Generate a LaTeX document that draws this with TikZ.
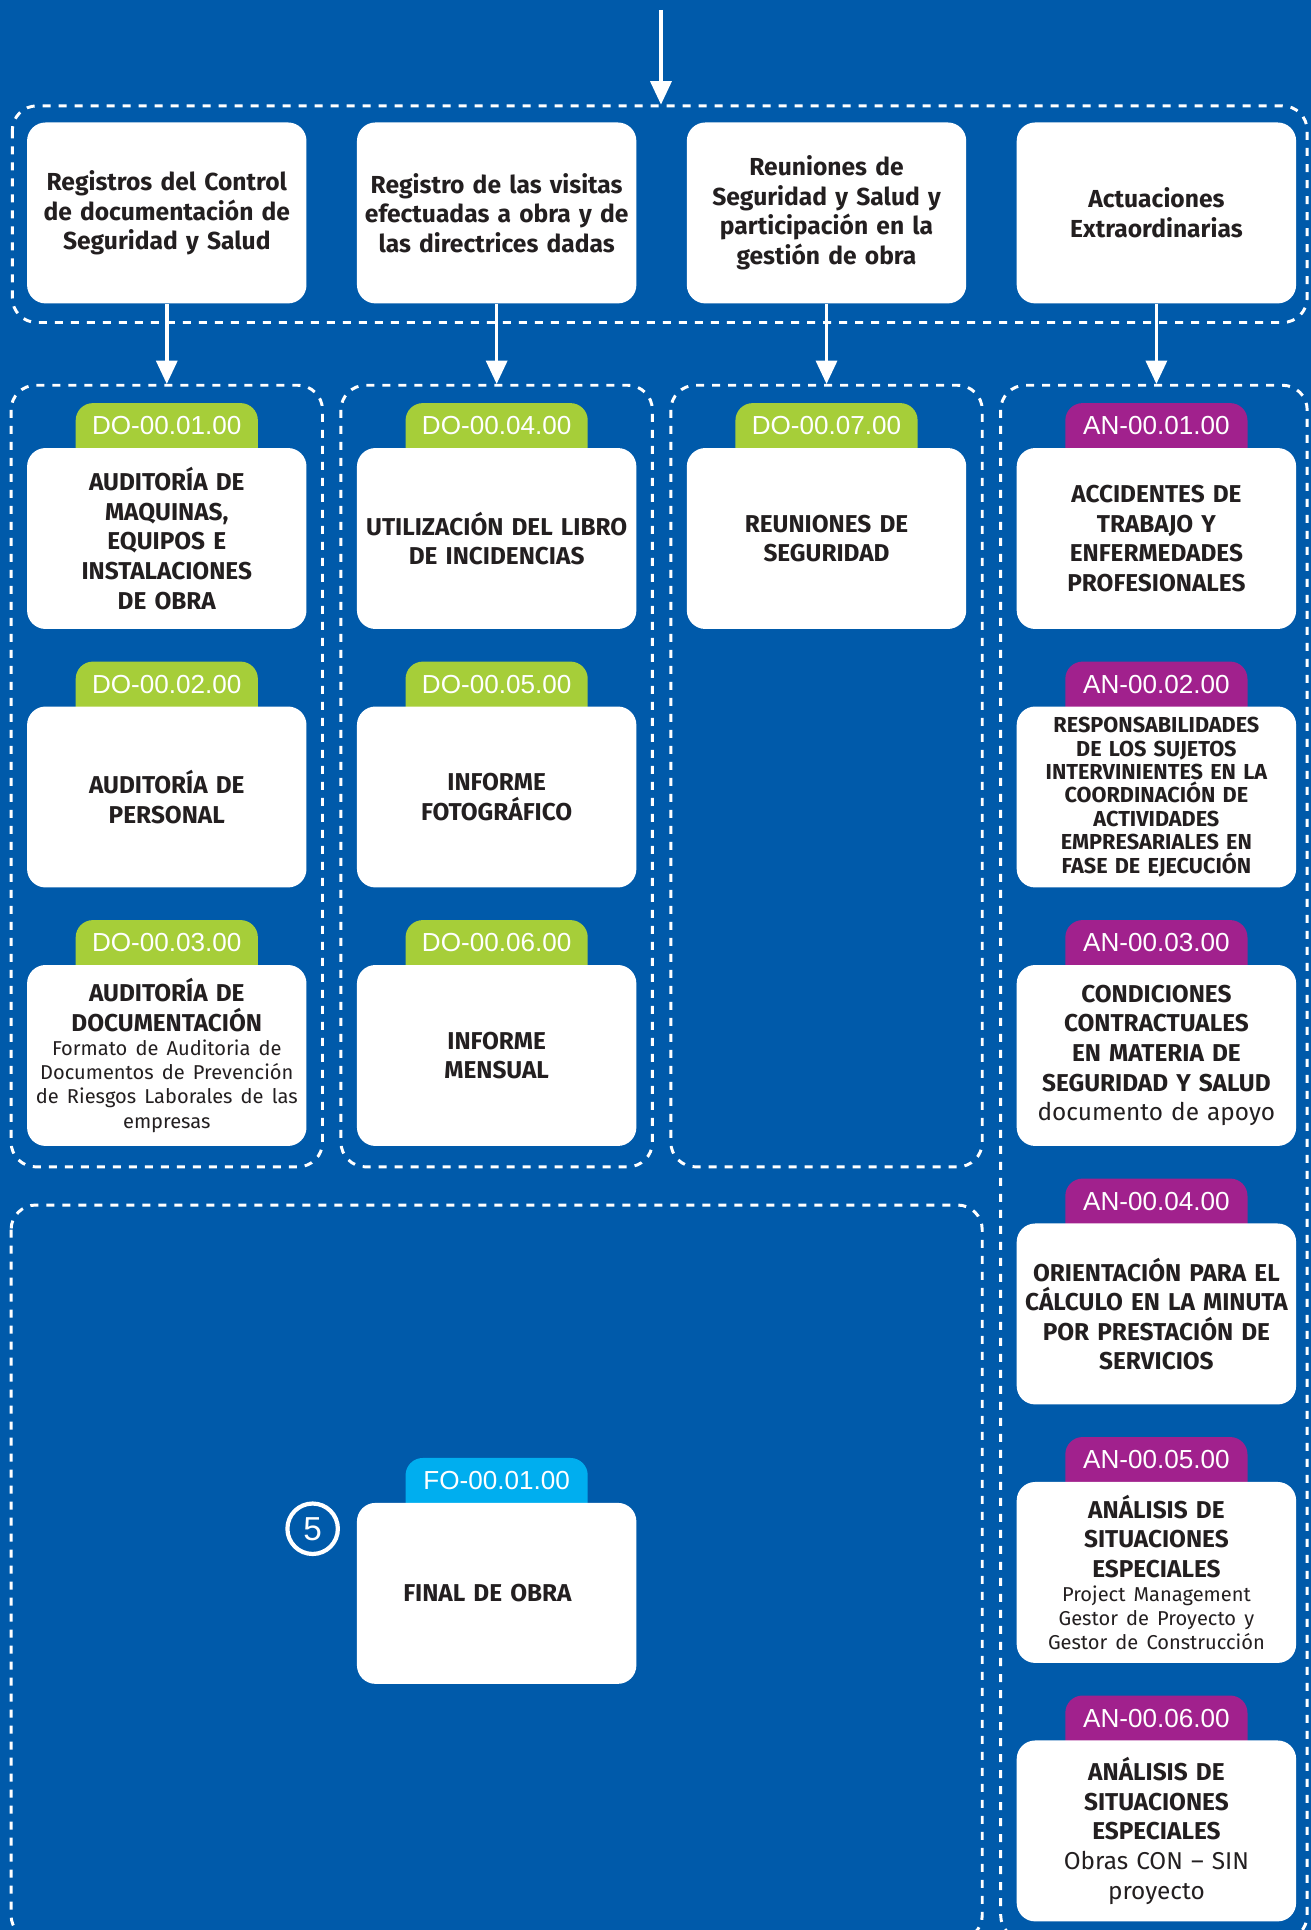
\documentclass[tikz,border=0pt]{standalone}
\usepackage{fontspec}
\setmainfont{Fira Sans}
\newfontfamily\codefont{Liberation Sans}
\usetikzlibrary{arrows.meta}
\definecolor{bgblue}{RGB}{0,90,170}
\definecolor{tabgreen}{RGB}{166,206,57}
\definecolor{tabpurple}{RGB}{161,33,141}
\definecolor{tabcyan}{RGB}{0,174,239}
\definecolor{ink}{RGB}{35,31,32}
\tikzset{
  card/.style={fill=white, rounded corners=15pt, minimum width=227pt, minimum height=147pt,
    text width=225pt, align=center, inner sep=0pt, text=ink,
    font=\bfseries\fontsize{19.8}{24}\selectfont},
  headbox/.style={card, font=\bfseries\fontsize{20}{24}\selectfont},
  smallcaps/.style={font=\bfseries\fontsize{17.6}{19}\selectfont},
  tabtext/.style={text=white, font=\codefont\fontsize{21.2}{22}\selectfont, inner sep=0pt},
  dashbox/.style={draw=white, line width=2.4pt, dash pattern=on 6.5pt off 6.5pt, rounded corners=20pt},
  arr/.style={draw=white, line width=2.8pt, -{Triangle[width=17pt,length=19pt]}},
  fivemark/.style={circle, draw=white, line width=3.4pt, minimum size=41pt, inner sep=0pt,
    text=white, font=\codefont\fontsize{27}{27}\selectfont},
}
\newcommand\smalltxt{\fontsize{16.3}{19.6}\mdseries\selectfont}
\newcommand\regtxt{\fontsize{19.8}{24}\mdseries\selectfont}
% #1 name, #2 x centre, #3 y top of card, #4 tab colour, #5 code, #6 extra style, #7 text
\newcommand\mkcard[7]{%
  \fill[#4] ({#2-74},{#3+1}) [rounded corners=14pt] -- ({#2-74},{#3-36.5}) -- ({#2+74},{#3-36.5}) [sharp corners] -- ({#2+74},{#3+1}) -- cycle;
  \node[tabtext] (#1t) at ({#2},{#3-18}) {#5};
  \node[card,#6] (#1) at ({#2},{#3+73.5}) {#7};
}
\begin{document}
\begin{tikzpicture}[x=1pt,y=-1pt]
\useasboundingbox (0,0) rectangle (1065,1568);
\clip (0,0) rectangle (1065,1568);
\fill[bgblue] (0,0) rectangle (1065,1568);

% dashed groups
\draw[dashbox] (10,86) rectangle (1062,262);
\draw[dashbox] (9,313) rectangle (262,948);
\draw[dashbox] (277,313) rectangle (530,948);
\draw[dashbox] (545,313) rectangle (798,948);
\draw[dashbox] (813,313) rectangle (1062,1576);
\draw[dashbox] (9,979) rectangle (798,1576);

% header boxes
\node[headbox] (h1) at (135.5,173) {Registros del Control\\de documentación de\\Seguridad y Salud};
\node[headbox] (h2) at (403.5,173) {Registro de las visitas\\efectuadas a obra y de\\las directrices dadas};
\node[headbox] (h3) at (671.5,173) {Reuniones de\\Seguridad y Salud y\\participación en la\\gestión de obra};
\node[headbox] (h4) at (939.5,173) {Actuaciones\\Extraordinarias};

% arrows
\coordinate (a0) at (537,8);
\coordinate (a0e) at (537,85);
\draw[arr] (a0) -- (a0e);
\coordinate (d1) at (135.5,312);
\coordinate (d2) at (403.5,312);
\coordinate (d3) at (671.5,312);
\coordinate (d4) at (939.5,312);
\draw[arr] (h1) -- (d1);
\draw[arr] (h2) -- (d2);
\draw[arr] (h3) -- (d3);
\draw[arr] (h4) -- (d4);

% column 1
\mkcard{c1}{135.5}{364}{tabgreen}{DO-00.01.00}{}{AUDITORÍA DE\\MAQUINAS,\\EQUIPOS E\\INSTALACIONES\\DE OBRA}
\mkcard{c2}{135.5}{574}{tabgreen}{DO-00.02.00}{}{AUDITORÍA DE\\PERSONAL}
\mkcard{c3}{135.5}{784}{tabgreen}{DO-00.03.00}{}{AUDITORÍA DE\\DOCUMENTACIÓN\par{\smalltxt Formato de Auditoria de\\Documentos de Prevención\\de Riesgos Laborales de las\\empresas\par}}
% column 2
\mkcard{c4}{403.5}{364}{tabgreen}{DO-00.04.00}{}{UTILIZACIÓN DEL LIBRO\\DE INCIDENCIAS}
\mkcard{c5}{403.5}{574}{tabgreen}{DO-00.05.00}{}{INFORME\\FOTOGRÁFICO}
\mkcard{c6}{403.5}{784}{tabgreen}{DO-00.06.00}{}{INFORME\\MENSUAL}
% column 3
\mkcard{c7}{671.5}{364}{tabgreen}{DO-00.07.00}{}{REUNIONES DE\\SEGURIDAD}
% column 4
\mkcard{n1}{939.5}{364}{tabpurple}{AN-00.01.00}{}{ACCIDENTES DE\\TRABAJO Y\\ENFERMEDADES\\PROFESIONALES}
\mkcard{n2}{939.5}{574}{tabpurple}{AN-00.02.00}{smallcaps}{RESPONSABILIDADES\\DE LOS SUJETOS\\INTERVINIENTES EN LA\\COORDINACIÓN DE\\ACTIVIDADES\\EMPRESARIALES EN\\FASE DE EJECUCIÓN}
\mkcard{n3}{939.5}{784}{tabpurple}{AN-00.03.00}{}{CONDICIONES\\CONTRACTUALES\\EN MATERIA DE\\SEGURIDAD Y SALUD\\{\regtxt documento de apoyo}}
\mkcard{n4}{939.5}{994}{tabpurple}{AN-00.04.00}{}{ORIENTACIÓN PARA EL\\CÁLCULO EN LA MINUTA\\POR PRESTACIÓN DE\\SERVICIOS}
\mkcard{n5}{939.5}{1204}{tabpurple}{AN-00.05.00}{}{ANÁLISIS DE\\SITUACIONES\\ESPECIALES\par{\smalltxt Project Management\\Gestor de Proyecto y\\Gestor de Construcción\par}}
\mkcard{n6}{939.5}{1414}{tabpurple}{AN-00.06.00}{}{ANÁLISIS DE\\SITUACIONES\\ESPECIALES\\{\regtxt Obras CON – SIN}\\{\regtxt proyecto}}
% final
\mkcard{f1}{403.5}{1221}{tabcyan}{FO-00.01.00}{}{FINAL DE OBRA\hspace*{15pt}}
\node[fivemark] (five) at (254,1242) {5};
\end{tikzpicture}
\end{document}
